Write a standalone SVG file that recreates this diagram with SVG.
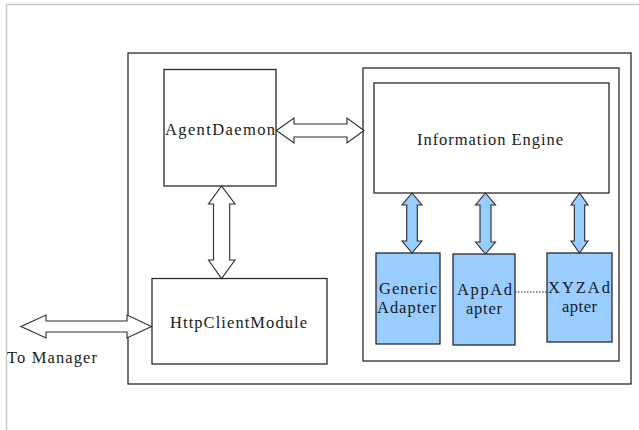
<svg xmlns="http://www.w3.org/2000/svg" width="639" height="430" viewBox="0 0 639 430">
  <style>
    .box { fill: #ffffff; stroke: #2a2a2a; stroke-width: 1.3; }
    .adapter { fill: #99ccff; stroke: #2a2a2a; stroke-width: 1.3; }
    .arrow { fill: #ffffff; stroke: #2a2a2a; stroke-width: 1.1; stroke-linejoin: miter; }
    .arrow-blue { fill: #99ccff; stroke: #2a2a2a; stroke-width: 1.1; stroke-linejoin: miter; }
    .lbl { font-family: 'Liberation Serif', 'Times New Roman', serif; font-size: 16.5px; fill: #1a1a1a; }
    .frame { fill: none; stroke: #c8c8c8; stroke-width: 1.5; }
  </style>

  <!-- page frame -->
  <rect x="0" y="0" width="639" height="430" fill="#ffffff"/>
  <polyline class="frame" points="6.5,430 6.5,4.5 639,4.5"/>

  <!-- outer agent container -->
  <g id="agent-container">
    <rect class="box" x="128" y="53" width="503" height="331"/>
  </g>

  <g id="agent-daemon">
    <rect class="box" x="164" y="69.5" width="112" height="116.5"/>
    <text class="lbl" x="165" y="135" textLength="110" lengthAdjust="spacing">AgentDaemon</text>
  </g>

  <g id="http-client-module">
    <rect class="box" x="152" y="278.5" width="175" height="85.5"/>
    <text class="lbl" x="170" y="328" textLength="137" lengthAdjust="spacing">HttpClientModule</text>
  </g>

  <g id="information-container">
    <rect class="box" x="363" y="68" width="256" height="293"/>
  </g>

  <g id="information-engine">
    <rect class="box" x="374" y="83" width="235" height="110"/>
    <text class="lbl" x="417" y="145" textLength="146" lengthAdjust="spacing">Information Engine</text>
  </g>

  <g id="generic-adapter">
    <rect class="adapter" x="376" y="253" width="64" height="91"/>
    <text class="lbl" x="379" y="294" textLength="58" lengthAdjust="spacing">Generic</text>
    <text class="lbl" x="377" y="313" textLength="59" lengthAdjust="spacing">Adapter</text>
  </g>

  <g id="app-adapter">
    <rect class="adapter" x="453" y="254" width="62" height="91"/>
    <text class="lbl" x="457" y="295" textLength="55" lengthAdjust="spacing">AppAd</text>
    <text class="lbl" x="466" y="314" textLength="36" lengthAdjust="spacing">apter</text>
  </g>

  <g id="xyz-adapter">
    <rect class="adapter" x="547" y="253" width="65" height="89"/>
    <text class="lbl" x="548" y="293" textLength="62" lengthAdjust="spacing">XYZAd</text>
    <text class="lbl" x="562" y="312" textLength="35" lengthAdjust="spacing">apter</text>
  </g>

  <g id="to-manager">
    <text class="lbl" x="7" y="363" textLength="90" lengthAdjust="spacing">To Manager</text>
  </g>

  <!-- connectors -->
  <g id="connectors">
    <!-- AgentDaemon <-> Information container -->
    <polygon class="arrow" points="276.5,130.5 294,118 294,124 347,124 347,118 364,130.5 347,143 347,137 294,137 294,143"/>
    <!-- AgentDaemon <-> HttpClientModule -->
    <polygon class="arrow" points="221.5,186 208.5,204 213.5,204 213.5,260 208.5,260 221.5,278.5 235,260 229.7,260 229.7,204 235,204"/>
    <!-- Manager <-> HttpClientModule -->
    <polygon class="arrow" points="21,326.5 46,315 46,321 127,321 127,315 151.5,326.5 127,338 127,332 46,332 46,338"/>
    <!-- Information Engine <-> adapters -->
    <polygon class="arrow-blue" points="412,193 402,205 406.7,205 406.7,241 402,241 412,253 422,241 417.3,241 417.3,205 422,205"/>
    <polygon class="arrow-blue" points="485.5,193 475.5,205 480,205 480,242 475.5,242 485.5,254 495.5,242 491,242 491,205 495.5,205"/>
    <polygon class="arrow-blue" points="579.5,193 571,205 574.3,205 574.3,241 571,241 579.5,253 588,241 584.7,241 584.7,205 588,205"/>
    <!-- AppAdapter ... XYZAdapter -->
    <line x1="515" y1="292" x2="547" y2="292" stroke="#222222" stroke-width="1" stroke-dasharray="1.5,1.5"/>
  </g>
</svg>
